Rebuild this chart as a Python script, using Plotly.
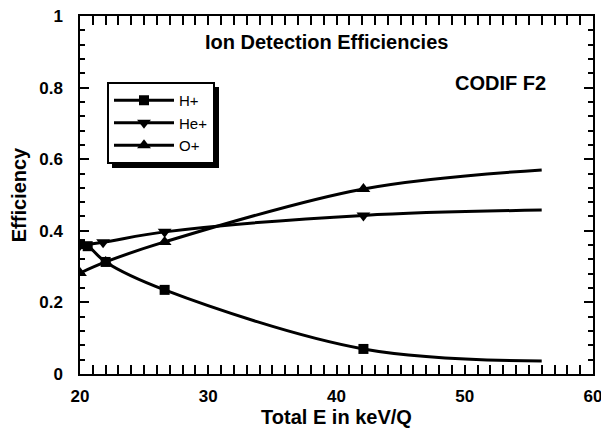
import plotly.graph_objects as go

# Data
energy_h = [20, 20.6, 22, 26.6, 42.1, 56]
eff_h = [0.363, 0.357, 0.313, 0.235, 0.070, 0.036]
energy_he = [20, 21.8, 26.6, 42.1, 56]
eff_he = [0.360, 0.368, 0.397, 0.443, 0.458]
energy_o = [20, 22, 26.6, 42.1, 56]
eff_o = [0.282, 0.313, 0.369, 0.517, 0.570]

series = [
    ("H+", energy_h, eff_h, "square", 10),
    ("He+", energy_he, eff_he, "triangle-down", 12),
    ("O+", energy_o, eff_o, "triangle-up", 12),
]

x_ticks = [20, 30, 40, 50, 60]
y_ticks = [0, 0.2, 0.4, 0.6, 0.8, 1]
y_tick_text = ["0", "0.2", "0.4", "0.6", "0.8", "1"]

FONT = "Liberation Sans, Arial, Helvetica, sans-serif"

fig = go.Figure()
for name, xs, ys, sym, msize in series:
    fig.add_trace(go.Scatter(
        x=xs, y=ys, mode="lines", line=dict(color="black", width=3, shape="spline"),
        showlegend=False, hoverinfo="skip"))
    fig.add_trace(go.Scatter(
        x=xs[:-1], y=ys[:-1], mode="markers",
        marker=dict(symbol=sym, size=msize, color="black"),
        showlegend=False, name=name))
    fig.add_trace(go.Scatter(
        x=[None], y=[None], mode="lines+markers", name=name,
        line=dict(color="black", width=3),
        marker=dict(symbol=sym, size=msize, color="black")))

W, H = 601, 428
L, R, T, B = 63, 8, 16, 54
AXL = 80  # pixel position of the left axis line
pw, ph = W - L - R, H - T - B

def px_to_paper(px, py):
    return (px - L) / pw, 1 - (py - T) / ph

tickfont = dict(family=FONT, size=17, color="black", weight="bold")
axis_common = dict(
    showline=True, linecolor="black", linewidth=2, mirror="allticks",
    ticks="inside", ticklen=9, tickwidth=2, tickcolor="black",
    showgrid=False, zeroline=False, automargin=False, ticklabeloverflow="allow",
    tickfont=tickfont,
)

fig.update_layout(xaxis=dict(
    domain=[(AXL - L) / pw, 1],
    range=[20, 60], tickvals=x_ticks,
    minor=dict(dtick=1, ticks="inside", ticklen=5, tickwidth=1.5, tickcolor="black"),
    title=dict(text="Total E in keV/Q", font=dict(family=FONT, size=20, color="black", weight="bold"), standoff=2),
    ticklabelstandoff=6,
    **axis_common))
fig.update_layout(yaxis=dict(
    range=[0, 1], tickvals=y_ticks, showticklabels=False,
    minor=dict(dtick=0.04, ticks="inside", ticklen=5, tickwidth=1.5, tickcolor="black"),
    **axis_common))
# tick labels and title of the efficiency axis, set slightly away from the frame
fig.update_layout(yaxis2=dict(
    overlaying="y", anchor="free", position=0, side="left",
    range=[0, 1], tickvals=y_ticks, ticktext=y_tick_text,
    showline=False, ticks="", showgrid=False, zeroline=False, automargin=False,
    tickfont=tickfont, ticklabeloverflow="allow",
    title=dict(text="Efficiency", font=dict(family=FONT, size=20, color="black", weight="bold"), standoff=6),
))
fig.add_trace(go.Scatter(x=[None], y=[None], yaxis="y2", showlegend=False, hoverinfo="skip"))

lx, ly = px_to_paper(107, 82)
sx0, sy0 = px_to_paper(112, 87)
sx1, sy1 = px_to_paper(219, 168)
fig.add_shape(type="rect", xref="paper", yref="paper", x0=sx0, y0=sy1, x1=sx1, y1=sy0,
              fillcolor="black", line=dict(width=0), layer="above")
fig.update_layout(
    width=W, height=H,
    margin=dict(l=L, r=R, t=T, b=B),
    paper_bgcolor="white", plot_bgcolor="white",
    font=dict(family=FONT, color="black"),
    legend=dict(x=lx, y=ly, xanchor="left", yanchor="top",
                bgcolor="white", bordercolor="black", borderwidth=2,
                font=dict(family=FONT, size=15, color="black"),
                itemwidth=60, tracegroupgap=0),
)

tx, ty = px_to_paper(326, 42)
cx, cy = px_to_paper(500, 83)
fig.add_annotation(x=tx, y=ty, xref="paper", yref="paper", text="Ion Detection Efficiencies",
                   showarrow=False, xanchor="center", yanchor="middle",
                   font=dict(family=FONT, size=20, color="black", weight="bold"))
fig.add_annotation(x=cx, y=cy, xref="paper", yref="paper", text="CODIF F2",
                   showarrow=False, xanchor="center", yanchor="middle",
                   font=dict(family=FONT, size=20, color="black", weight="bold"))

fig.write_html("out.html")
